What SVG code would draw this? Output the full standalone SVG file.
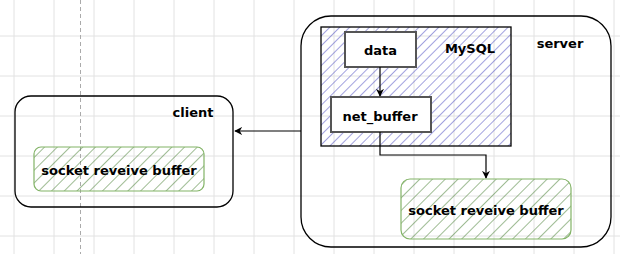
<svg xmlns="http://www.w3.org/2000/svg" width="620" height="254" viewBox="0 0 620 254">
  <style>
    .lbl { font-family: "DejaVu Sans", "Liberation Sans", sans-serif; font-weight: bold; font-size: 13px; fill: #000; text-anchor: middle; dominant-baseline: central; }
    .frame { fill: none; stroke: #000; stroke-width: 1.3; }
    .inner { fill: #fff; stroke: #555; stroke-width: 2; }
    .buf { fill: url(#hatchGreen); stroke: #82b366; stroke-width: 1.2; }
    .edge { fill: none; stroke: #000; stroke-width: 1.2; }
    .grid { stroke: #e2e2e2; stroke-width: 1; }
  </style>
  <defs>
    <pattern id="hatchGreen" patternUnits="userSpaceOnUse" width="9" height="9" patternTransform="rotate(45)">
      <line x1="0" y1="0" x2="0" y2="9" stroke="#3f7a2a" stroke-width="1"/>
    </pattern>
    <pattern id="hatchBlue" patternUnits="userSpaceOnUse" width="7" height="7" patternTransform="rotate(45)">
      <line x1="0" y1="0" x2="0" y2="7" stroke="#4646c0" stroke-width="1"/>
    </pattern>
    <marker id="arrow" viewBox="0 0 10 10" refX="9" refY="5" markerWidth="8" markerHeight="8" markerUnits="userSpaceOnUse" orient="auto">
      <path d="M0,0 L10,5 L0,10 L3,5 Z" fill="#000"/>
    </marker>
  </defs>

  <!-- background grid -->
  <rect width="620" height="254" fill="#fff"/>
  <g id="grid">
    <path class="grid" d="M14,0V254M54,0V254M94,0V254M134,0V254M174,0V254M214,0V254M254,0V254M294,0V254M334,0V254M374,0V254M414,0V254M454,0V254M494,0V254M534,0V254M574,0V254M614,0V254M0,36H620M0,76H620M0,116H620M0,156H620M0,196H620M0,236H620"/>
    <line x1="80.5" y1="0" x2="80.5" y2="254" stroke="#aaa" stroke-width="1" stroke-dasharray="4,3"/>
  </g>

  <!-- client side -->
  <g id="client">
    <rect class="frame" x="15" y="96" width="218" height="111" rx="16"/>
    <text class="lbl" x="193" y="112">client</text>
  </g>
  <g id="client-socket">
    <rect class="buf" x="34" y="147" width="170" height="44" rx="7"/>
    <text class="lbl" x="119" y="170">socket reveive buffer</text>
  </g>

  <!-- server side -->
  <g id="server">
    <rect class="frame" x="301" y="16" width="310" height="231" rx="30"/>
    <text class="lbl" x="560" y="43">server</text>
  </g>
  <g id="mysql">
    <rect x="321" y="27" width="190" height="119" fill="url(#hatchBlue)" stroke="#000" stroke-width="1.3"/>
    <text class="lbl" x="470" y="48">MySQL</text>
  </g>
  <g id="data">
    <rect class="inner" x="345" y="32" width="71" height="35"/>
    <text class="lbl" x="380.5" y="50">data</text>
  </g>
  <g id="net-buffer">
    <rect class="inner" x="331" y="97" width="100" height="35"/>
    <text class="lbl" x="380" y="116">net_buffer</text>
  </g>
  <g id="server-socket">
    <rect class="buf" x="401" y="179" width="170" height="60" rx="9"/>
    <text class="lbl" x="486" y="210">socket reveive buffer</text>
  </g>

  <!-- connectors -->
  <g id="edges">
    <path class="edge" d="M380,67 V96" marker-end="url(#arrow)"/>
    <path class="edge" d="M380,132 V155 H486 V178" marker-end="url(#arrow)"/>
    <path class="edge" d="M301,131 H235" marker-end="url(#arrow)"/>
  </g>
</svg>
